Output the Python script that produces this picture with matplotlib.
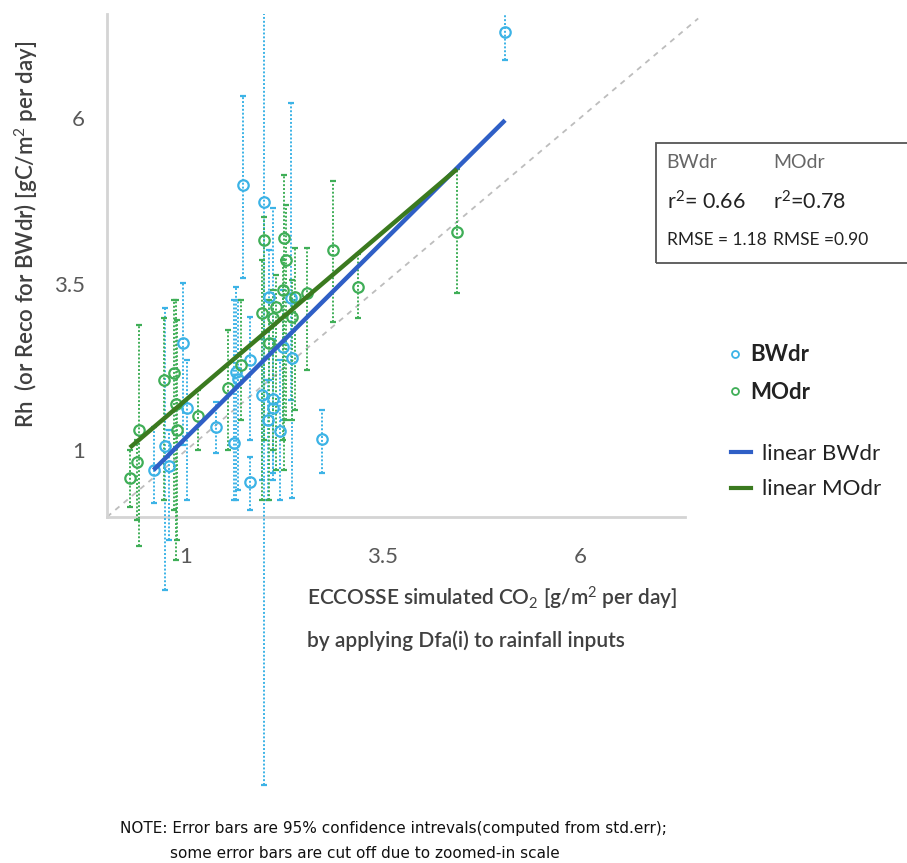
import numpy as np
import matplotlib
matplotlib.use("Agg")
import matplotlib.pyplot as plt
from matplotlib.patches import Rectangle
from matplotlib.lines import Line2D

plt.rcParams["font.family"] = ["Lato", "DejaVu Sans"]
plt.rcParams["mathtext.fontset"] = "custom"
plt.rcParams["mathtext.rm"] = "Lato"
plt.rcParams["mathtext.it"] = "Lato:italic"
plt.rcParams["mathtext.bf"] = "Lato:bold"

# BWdr sites: simulated CO2 (x), measured Rh/Reco (y), 95% CI bounds
bw_x = [5.05, 1.72, 1.99, 0.97, 1.01, 1.38, 0.59, 0.73, 0.78, 1.63, 1.66, 1.82,
        1.61, 1.81, 1.97, 2.11, 2.11, 2.04, 2.19, 2.05, 2.33, 2.23, 2.35, 2.73]
bw_y = [7.29, 5.00, 4.74, 2.62, 1.64, 1.36, 0.71, 1.07, 0.77, 2.18, 2.08, 2.36,
        1.11, 0.53, 1.84, 1.78, 1.64, 1.46, 1.30, 3.31, 3.30, 2.55, 2.39, 1.17]
bw_lo = [6.88, 3.60, -4.04, 1.08, 0.26, 0.96, 0.21, -1.10, -0.35, 0.26, 0.41, 1.16,
         0.26, 0.11, 0.56, 0.66, 0.56, 0.26, 0.26, 2.06, 1.76, 1.46, 0.29, 0.66]
bw_hi = [8.00, 6.34, 9.50, 3.52, 2.36, 1.73, 1.36, 3.15, 1.31, 3.46, 3.27, 3.01,
         3.27, 0.90, 2.67, 4.65, 2.67, 2.06, 2.36, 4.02, 6.23, 3.42, 3.27, 1.61]

# MOdr sites
mo_x = [4.44, 3.18, 2.87, 1.99, 2.24, 2.27, 2.23, 2.39, 2.54, 1.97, 2.14, 2.11,
        2.35, 2.06, 1.70, 1.53, 1.16, 0.87, 0.89, 0.85, 0.72, 0.41, 0.38, 0.29]
mo_y = [4.29, 3.46, 4.01, 4.17, 4.20, 3.87, 3.42, 3.31, 3.37, 3.07, 3.16, 3.00,
        3.01, 2.62, 2.29, 1.94, 1.52, 1.70, 1.31, 2.17, 2.06, 1.31, 0.83, 0.59]
mo_lo = [3.37, 3.00, 2.94, 1.16, 0.71, 1.46, 1.16, 1.61, 2.21, 0.26, 0.71, 1.01,
         1.46, 0.26, 1.46, 1.01, 1.01, -0.65, -0.35, 0.11, 0.26, -0.44, -0.05, 0.15]
mo_hi = [5.23, 3.95, 5.05, 4.52, 5.15, 4.70, 3.87, 4.05, 4.05, 3.87, 3.64, 3.42,
         3.57, 3.27, 3.27, 2.82, 1.91, 3.27, 2.97, 3.27, 3.00, 2.89, 1.16, 1.01]

# linear fits (slope, intercept, x range)
bw_fit = (1.18, 0.01, 0.59, 5.05)
mo_fit = (1.01, 0.75, 0.29, 4.44)

ticks = [1, 3.5, 6]
bw_stats = ("BWdr", "r$^2$= 0.66", "RMSE = 1.18")
mo_stats = ("MOdr", "r$^2$=0.78", "RMSE =0.90")

c_bw = "#3cb3e6"
c_mo = "#3fae57"
c_bw_line = "#2f5fc6"
c_mo_line = "#3b7a1f"

fig = plt.figure(figsize=(9.07, 8.63), dpi=100)
ax = fig.add_axes([0.118, 0.401, 0.637, 0.583])
ax.set_xlim(0, 7.33)
ax.set_ylim(0, 7.57)

# error bars are clipped at the top edge only
clip = Rectangle((-0.1, -1.0), 1.3, 2.0, transform=ax.transAxes)


def draw_series(x, y, lo, hi, color):
    x = np.array(x)
    y = np.array(y)
    yerr = [y - np.array(lo), np.array(hi) - y]
    eb = ax.errorbar(x, y, yerr=yerr, fmt="o", ms=7.5, mfc="none", mec=color,
                     mew=1.6, ecolor=color, elinewidth=1.4, capsize=2,
                     capthick=1.3, zorder=3)
    for col in eb[2]:
        col.set_linestyle((0, (1.0, 1.0)))
        col.set_clip_path(clip)
    for cap in eb[1]:
        cap.set_clip_path(clip)


draw_series(bw_x, bw_y, bw_lo, bw_hi, c_bw)
draw_series(mo_x, mo_y, mo_lo, mo_hi, c_mo)

# 1:1 reference line
ax.plot([0, 7.5], [0, 7.5], ls=(0, (3, 3)), color="#bdbdbd", lw=1.3,
        clip_on=False, zorder=1)

for (m, b, x0, x1), col in [(bw_fit, c_bw_line), (mo_fit, c_mo_line)]:
    xs = np.array([x0, x1])
    ax.plot(xs, m * xs + b, color=col, lw=3.2, zorder=4,
            solid_capstyle="butt")

for s in ["top", "right"]:
    ax.spines[s].set_visible(False)
for s in ["left", "bottom"]:
    ax.spines[s].set_color("#d4d4d4")
    ax.spines[s].set_linewidth(2)

ax.set_xticks(ticks)
ax.set_yticks(ticks)
ax.set_xticklabels(["1", "3.5", "6"])
ax.set_yticklabels(["1", "3.5", "6"])
ax.tick_params(length=0, labelsize=16, labelcolor="#595959")
ax.tick_params(axis="x", pad=22)
ax.tick_params(axis="y", pad=16)

fig.text(0.028, 0.728, "Rh  (or Reco for BWdr) [gC/m$^2$ per day]", fontsize=16,
         color="#404040", rotation=90, ha="center", va="center",
         weight="semibold")

fig.text(0.338, 0.307, "ECCOSSE simulated CO$_2$ [g/m$^2$ per day]",
         fontsize=15, color="#404040", ha="left", va="center", weight="semibold")
fig.text(0.338, 0.258, "by applying Dfa(i) to rainfall inputs",
         fontsize=15, color="#404040", ha="left", va="center", weight="semibold")

# statistics box
fig.patches.append(Rectangle((0.723, 0.695), 0.3, 0.139, transform=fig.transFigure,
                             fill=False, ec="#555555", lw=1.3))
for col_x, stats in [(0.735, bw_stats), (0.852, mo_stats)]:
    fig.text(col_x, 0.812, stats[0], fontsize=14, color="#666666", va="center")
    fig.text(col_x, 0.766, stats[1], fontsize=15.5, color="#222222", va="center")
    fig.text(col_x, 0.722, stats[2], fontsize=12.5, color="#222222", va="center")

# legend
handles = [
    Line2D([], [], ls="none", marker="o", ms=5, mfc="none", mec=c_bw, mew=1.3),
    Line2D([], [], ls="none", marker="o", ms=5, mfc="none", mec=c_mo, mew=1.3),
]
leg1 = fig.legend(handles, ["BWdr", "MOdr"], loc="upper left",
                  bbox_to_anchor=(0.781, 0.624), frameon=False,
                  prop={"size": 16, "weight": "bold"}, handlelength=0.6,
                  handletextpad=0.4, labelspacing=0.75)
for t in leg1.get_texts():
    t.set_color("#222222")
handles2 = [Line2D([], [], color=c_bw_line, lw=3),
            Line2D([], [], color=c_mo_line, lw=3)]
leg2 = fig.legend(handles2, ["linear BWdr", "linear MOdr"], loc="upper left",
                  bbox_to_anchor=(0.784, 0.509), frameon=False,
                  prop={"size": 16}, handlelength=0.9, handletextpad=0.5,
                  labelspacing=0.7)
for t in leg2.get_texts():
    t.set_color("#222222")

note_font = ["Liberation Sans Narrow", "DejaVu Sans"]
fig.text(0.434, 0.040,
         "NOTE: Error bars are 95% confidence intrevals(computed from std.err);",
         fontsize=11, family=note_font, ha="center", va="center", color="#111111")
fig.text(0.187, 0.011, "some error bars are cut off due to zoomed-in scale",
         fontsize=11, family=note_font, ha="left", va="center", color="#111111")

fig.savefig("out.png", dpi=100)
